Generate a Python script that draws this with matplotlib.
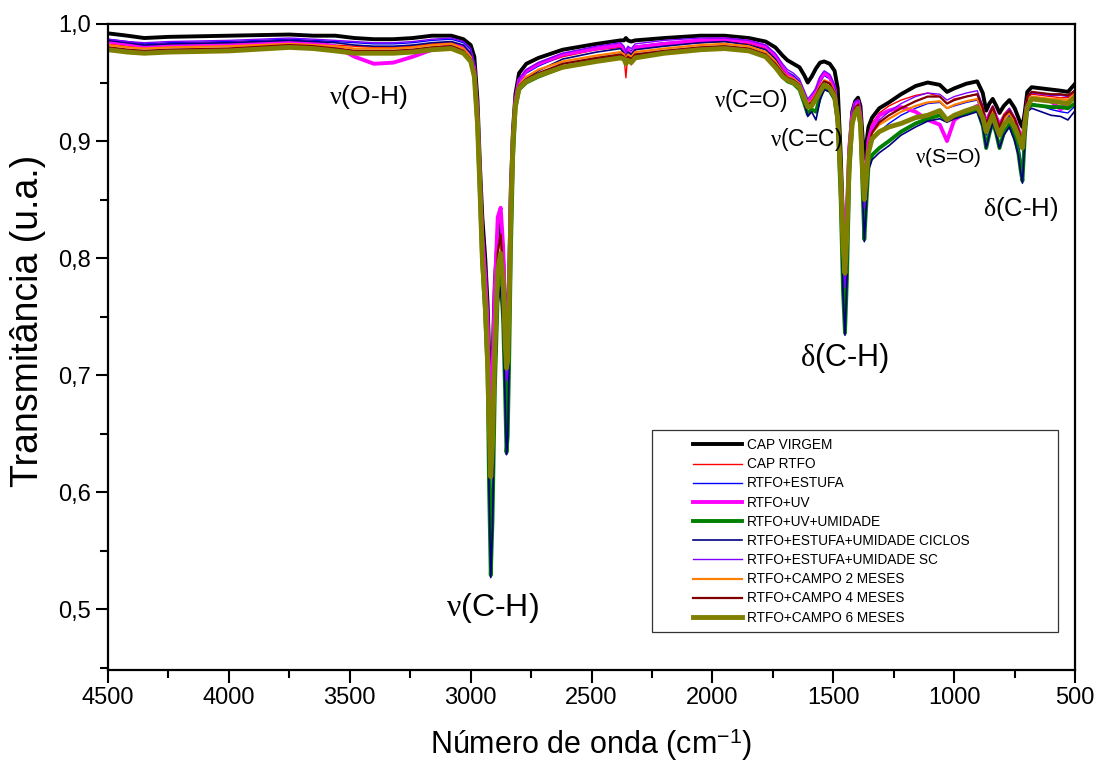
import matplotlib
matplotlib.use("Agg")
import matplotlib.pyplot as plt
from matplotlib.patches import Rectangle
from matplotlib.ticker import MultipleLocator

plt.rcParams['font.family'] = ['Liberation Sans', 'DejaVu Sans']
plt.rcParams['mathtext.fontset'] = 'custom'
plt.rcParams['mathtext.rm'] = 'Liberation Sans'
plt.rcParams['mathtext.it'] = 'Liberation Serif'
plt.rcParams['mathtext.bf'] = 'Liberation Sans:bold'

wavenumber = [4500, 4420, 4350, 4250, 4000, 3750, 3650, 3560, 3480, 3400,
              3320, 3240, 3160, 3080, 3030, 3000, 2985, 2972, 2962, 2952,
              2940, 2930, 2924, 2917, 2910, 2900, 2888, 2876, 2866, 2858,
              2852, 2847, 2841, 2834, 2825, 2815, 2800, 2770, 2720, 2620,
              2480, 2380, 2366, 2358, 2350, 2336, 2320, 2200, 2050, 1950,
              1850, 1780, 1740, 1710, 1690, 1665, 1640, 1620, 1606, 1590,
              1572, 1555, 1538, 1515, 1495, 1482, 1470, 1460, 1452, 1444,
              1434, 1422, 1410, 1398, 1388, 1378, 1372, 1365, 1355, 1340,
              1310, 1270, 1220, 1160, 1110, 1060, 1030, 1000, 950, 905,
              882, 868, 855, 841, 826, 813, 795, 772, 750, 735,
              726, 718, 708, 698, 680, 640, 600, 560, 530, 500]

cap_virgem = [0.992, 0.990, 0.988, 0.989, 0.990, 0.991, 0.990, 0.990, 0.988, 0.987,
              0.987, 0.988, 0.990, 0.990, 0.987, 0.982, 0.972, 0.935, 0.880, 0.835,
              0.800, 0.760, 0.720, 0.680, 0.710, 0.780, 0.820, 0.830, 0.800, 0.760,
              0.730, 0.735, 0.780, 0.860, 0.910, 0.940, 0.958, 0.966, 0.971, 0.978,
              0.983, 0.986, 0.986, 0.988, 0.986, 0.985, 0.986, 0.988, 0.990, 0.990,
              0.988, 0.985, 0.980, 0.973, 0.969, 0.966, 0.963, 0.956, 0.950, 0.955,
              0.962, 0.967, 0.968, 0.966, 0.960, 0.945, 0.890, 0.830, 0.800, 0.830,
              0.890, 0.925, 0.934, 0.937, 0.930, 0.900, 0.885, 0.895, 0.912, 0.920,
              0.928, 0.933, 0.940, 0.947, 0.950, 0.948, 0.942, 0.945, 0.949, 0.951,
              0.941, 0.926, 0.932, 0.936, 0.930, 0.924, 0.930, 0.935, 0.928, 0.920,
              0.915, 0.912, 0.925, 0.942, 0.946, 0.945, 0.944, 0.943, 0.942, 0.949]

cap_rtfo = [0.983, 0.981, 0.980, 0.981, 0.982, 0.984, 0.983, 0.982, 0.981, 0.980,
            0.980, 0.981, 0.983, 0.984, 0.981, 0.975, 0.963, 0.925, 0.870, 0.815,
            0.780, 0.740, 0.700, 0.665, 0.695, 0.770, 0.832, 0.843, 0.805, 0.755,
            0.725, 0.730, 0.775, 0.855, 0.905, 0.935, 0.952, 0.960, 0.965, 0.972,
            0.978, 0.980, 0.972, 0.954, 0.975, 0.965, 0.979, 0.982, 0.984, 0.985,
            0.983, 0.979, 0.972, 0.963, 0.958, 0.955, 0.950, 0.940, 0.934, 0.938,
            0.944, 0.952, 0.957, 0.954, 0.946, 0.928, 0.875, 0.825, 0.800, 0.830,
            0.892, 0.924, 0.933, 0.935, 0.924, 0.882, 0.865, 0.878, 0.905, 0.915,
            0.924, 0.930, 0.935, 0.939, 0.941, 0.938, 0.932, 0.936, 0.938, 0.940,
            0.930, 0.918, 0.925, 0.930, 0.922, 0.915, 0.923, 0.928, 0.920, 0.912,
            0.907, 0.905, 0.920, 0.937, 0.940, 0.939, 0.938, 0.937, 0.937, 0.942]

rtfo_estufa = [0.987, 0.985, 0.983, 0.984, 0.985, 0.987, 0.986, 0.985, 0.984, 0.983,
               0.983, 0.984, 0.986, 0.987, 0.984, 0.978, 0.965, 0.920, 0.860, 0.800,
               0.760, 0.715, 0.630, 0.560, 0.600, 0.700, 0.775, 0.790, 0.755, 0.700,
               0.655, 0.665, 0.725, 0.815, 0.890, 0.932, 0.950, 0.958, 0.964, 0.973,
               0.979, 0.982, 0.978, 0.970, 0.979, 0.977, 0.981, 0.984, 0.986, 0.987,
               0.985, 0.981, 0.974, 0.964, 0.959, 0.956, 0.951, 0.940, 0.930, 0.934,
               0.938, 0.950, 0.956, 0.953, 0.944, 0.925, 0.860, 0.785, 0.750, 0.792,
               0.878, 0.920, 0.932, 0.932, 0.920, 0.862, 0.830, 0.852, 0.888, 0.900,
               0.908, 0.915, 0.922, 0.928, 0.932, 0.933, 0.928, 0.930, 0.933, 0.935,
               0.922, 0.905, 0.915, 0.925, 0.915, 0.905, 0.915, 0.922, 0.912, 0.898,
               0.886, 0.878, 0.910, 0.932, 0.932, 0.930, 0.927, 0.925, 0.924, 0.930]

rtfo_uv = [0.985, 0.983, 0.981, 0.982, 0.983, 0.985, 0.984, 0.981, 0.972, 0.966,
           0.967, 0.972, 0.978, 0.982, 0.980, 0.974, 0.962, 0.925, 0.870, 0.820,
           0.785, 0.745, 0.700, 0.670, 0.700, 0.775, 0.835, 0.843, 0.810, 0.760,
           0.720, 0.725, 0.775, 0.855, 0.905, 0.935, 0.952, 0.960, 0.966, 0.974,
           0.979, 0.982, 0.978, 0.974, 0.979, 0.970, 0.980, 0.983, 0.986, 0.987,
           0.985, 0.981, 0.972, 0.962, 0.957, 0.953, 0.948, 0.938, 0.932, 0.936,
           0.943, 0.953, 0.958, 0.955, 0.945, 0.915, 0.870, 0.835, 0.818, 0.840,
           0.895, 0.922, 0.932, 0.934, 0.922, 0.878, 0.860, 0.872, 0.900, 0.912,
           0.922, 0.926, 0.929, 0.925, 0.918, 0.914, 0.900, 0.918, 0.925, 0.930,
           0.925, 0.916, 0.922, 0.928, 0.920, 0.914, 0.920, 0.926, 0.918, 0.910,
           0.904, 0.900, 0.918, 0.934, 0.936, 0.935, 0.934, 0.927, 0.933, 0.938]

rtfo_uv_umidade = [0.979, 0.977, 0.976, 0.977, 0.978, 0.981, 0.980, 0.978, 0.976, 0.976,
                   0.976, 0.977, 0.979, 0.980, 0.976, 0.969, 0.956, 0.912, 0.855, 0.795,
                   0.752, 0.702, 0.605, 0.529, 0.575, 0.690, 0.770, 0.785, 0.748, 0.688,
                   0.634, 0.648, 0.712, 0.805, 0.885, 0.928, 0.944, 0.950, 0.955, 0.963,
                   0.969, 0.972, 0.970, 0.967, 0.970, 0.968, 0.972, 0.976, 0.979, 0.980,
                   0.978, 0.973, 0.964, 0.955, 0.951, 0.949, 0.944, 0.932, 0.923, 0.927,
                   0.925, 0.938, 0.945, 0.943, 0.936, 0.916, 0.852, 0.772, 0.736, 0.782,
                   0.872, 0.914, 0.926, 0.927, 0.913, 0.852, 0.816, 0.842, 0.878, 0.888,
                   0.894, 0.900, 0.908, 0.915, 0.919, 0.922, 0.918, 0.921, 0.924, 0.927,
                   0.913, 0.894, 0.906, 0.917, 0.906, 0.894, 0.907, 0.914, 0.903, 0.890,
                   0.876, 0.866, 0.905, 0.928, 0.931, 0.930, 0.929, 0.929, 0.928, 0.932]

rtfo_estufa_umid_ciclos = [0.986, 0.984, 0.982, 0.983, 0.984, 0.986, 0.985, 0.984, 0.982, 0.981,
                           0.981, 0.982, 0.984, 0.985, 0.982, 0.975, 0.962, 0.910, 0.850, 0.790,
                           0.750, 0.700, 0.600, 0.527, 0.570, 0.680, 0.760, 0.775, 0.740, 0.680,
                           0.632, 0.645, 0.710, 0.800, 0.880, 0.925, 0.945, 0.953, 0.960, 0.970,
                           0.976, 0.979, 0.975, 0.972, 0.976, 0.974, 0.978, 0.981, 0.984, 0.985,
                           0.982, 0.978, 0.970, 0.960, 0.955, 0.952, 0.945, 0.932, 0.921, 0.925,
                           0.918, 0.935, 0.944, 0.942, 0.935, 0.915, 0.850, 0.770, 0.734, 0.780,
                           0.870, 0.915, 0.928, 0.928, 0.915, 0.850, 0.814, 0.840, 0.875, 0.884,
                           0.890, 0.896, 0.905, 0.912, 0.917, 0.919, 0.916, 0.919, 0.922, 0.925,
                           0.912, 0.894, 0.905, 0.916, 0.905, 0.894, 0.905, 0.912, 0.900, 0.888,
                           0.874, 0.864, 0.900, 0.925, 0.928, 0.925, 0.922, 0.921, 0.918, 0.926]

rtfo_estufa_umid_sc = [0.987, 0.985, 0.984, 0.985, 0.986, 0.988, 0.987, 0.986, 0.985, 0.984,
                       0.984, 0.985, 0.987, 0.988, 0.985, 0.979, 0.967, 0.925, 0.868, 0.810,
                       0.772, 0.730, 0.670, 0.620, 0.655, 0.745, 0.810, 0.820, 0.785, 0.730,
                       0.695, 0.700, 0.755, 0.840, 0.900, 0.935, 0.953, 0.961, 0.967, 0.975,
                       0.981, 0.984, 0.981, 0.976, 0.981, 0.979, 0.983, 0.986, 0.988, 0.988,
                       0.986, 0.982, 0.975, 0.966, 0.961, 0.958, 0.953, 0.943, 0.936, 0.940,
                       0.945, 0.955, 0.960, 0.957, 0.948, 0.928, 0.870, 0.805, 0.775, 0.810,
                       0.885, 0.924, 0.934, 0.935, 0.923, 0.870, 0.842, 0.862, 0.895, 0.908,
                       0.918, 0.925, 0.932, 0.938, 0.941, 0.940, 0.935, 0.938, 0.941, 0.943,
                       0.930, 0.915, 0.924, 0.930, 0.920, 0.912, 0.921, 0.928, 0.919, 0.910,
                       0.902, 0.898, 0.918, 0.938, 0.941, 0.940, 0.939, 0.939, 0.938, 0.944]

rtfo_campo_2 = [0.982, 0.980, 0.979, 0.980, 0.981, 0.983, 0.982, 0.981, 0.979, 0.979,
                0.979, 0.980, 0.982, 0.983, 0.979, 0.972, 0.960, 0.920, 0.865, 0.808,
                0.770, 0.725, 0.675, 0.630, 0.660, 0.740, 0.805, 0.818, 0.790, 0.740,
                0.712, 0.718, 0.765, 0.845, 0.900, 0.932, 0.948, 0.955, 0.961, 0.968,
                0.973, 0.976, 0.974, 0.970, 0.974, 0.972, 0.976, 0.979, 0.982, 0.983,
                0.981, 0.976, 0.968, 0.959, 0.955, 0.953, 0.949, 0.939, 0.932, 0.934,
                0.940, 0.947, 0.952, 0.950, 0.942, 0.924, 0.872, 0.815, 0.792, 0.825,
                0.888, 0.919, 0.928, 0.931, 0.919, 0.874, 0.855, 0.870, 0.896, 0.907,
                0.914, 0.919, 0.925, 0.930, 0.933, 0.934, 0.928, 0.931, 0.934, 0.936,
                0.926, 0.913, 0.920, 0.927, 0.918, 0.910, 0.919, 0.924, 0.917, 0.909,
                0.903, 0.900, 0.918, 0.934, 0.938, 0.937, 0.936, 0.936, 0.935, 0.940]

rtfo_campo_4 = [0.980, 0.978, 0.977, 0.978, 0.979, 0.982, 0.981, 0.979, 0.977, 0.977,
                0.977, 0.978, 0.980, 0.981, 0.977, 0.970, 0.958, 0.918, 0.862, 0.805,
                0.765, 0.720, 0.670, 0.625, 0.655, 0.735, 0.805, 0.820, 0.790, 0.738,
                0.710, 0.716, 0.762, 0.842, 0.900, 0.931, 0.947, 0.953, 0.958, 0.966,
                0.971, 0.974, 0.972, 0.969, 0.972, 0.970, 0.974, 0.977, 0.980, 0.981,
                0.979, 0.974, 0.966, 0.958, 0.954, 0.952, 0.948, 0.938, 0.931, 0.933,
                0.939, 0.946, 0.951, 0.949, 0.941, 0.922, 0.872, 0.812, 0.790, 0.822,
                0.886, 0.918, 0.928, 0.931, 0.918, 0.872, 0.853, 0.868, 0.895, 0.907,
                0.916, 0.922, 0.928, 0.934, 0.938, 0.938, 0.932, 0.935, 0.938, 0.940,
                0.928, 0.914, 0.922, 0.929, 0.920, 0.912, 0.921, 0.926, 0.919, 0.910,
                0.904, 0.902, 0.920, 0.938, 0.942, 0.941, 0.940, 0.940, 0.939, 0.943]

rtfo_campo_6 = [0.978, 0.976, 0.975, 0.976, 0.977, 0.980, 0.979, 0.977, 0.975, 0.975,
                0.975, 0.976, 0.978, 0.979, 0.975, 0.968, 0.955, 0.915, 0.860, 0.800,
                0.760, 0.710, 0.660, 0.613, 0.640, 0.720, 0.790, 0.804, 0.780, 0.730,
                0.706, 0.712, 0.760, 0.840, 0.900, 0.930, 0.945, 0.951, 0.956, 0.963,
                0.968, 0.971, 0.970, 0.966, 0.969, 0.967, 0.971, 0.975, 0.978, 0.979,
                0.977, 0.972, 0.963, 0.955, 0.952, 0.950, 0.946, 0.936, 0.929, 0.930,
                0.936, 0.942, 0.948, 0.945, 0.938, 0.920, 0.870, 0.810, 0.787, 0.820,
                0.884, 0.915, 0.924, 0.928, 0.915, 0.870, 0.850, 0.865, 0.890, 0.902,
                0.908, 0.912, 0.915, 0.920, 0.922, 0.926, 0.918, 0.922, 0.926, 0.929,
                0.920, 0.908, 0.915, 0.922, 0.912, 0.905, 0.914, 0.919, 0.912, 0.904,
                0.898, 0.894, 0.915, 0.929, 0.936, 0.935, 0.934, 0.933, 0.932, 0.938]

labels = ["CAP VIRGEM", "CAP RTFO", "RTFO+ESTUFA", "RTFO+UV", "RTFO+UV+UMIDADE",
          "RTFO+ESTUFA+UMIDADE CICLOS", "RTFO+ESTUFA+UMIDADE SC",
          "RTFO+CAMPO 2 MESES", "RTFO+CAMPO 4 MESES", "RTFO+CAMPO 6 MESES"]
series = [cap_virgem, cap_rtfo, rtfo_estufa, rtfo_uv, rtfo_uv_umidade,
          rtfo_estufa_umid_ciclos, rtfo_estufa_umid_sc, rtfo_campo_2,
          rtfo_campo_4, rtfo_campo_6]
colors = ["#000000", "#ff0000", "#0000ff", "#ff00ff", "#008000",
          "#000080", "#8000ff", "#ff8000", "#800000", "#808000"]
widths = [2.8, 1.0, 1.0, 2.8, 2.8, 1.2, 1.0, 1.6, 1.6, 3.5]

for s in series:
    assert len(s) == len(wavenumber), len(s)

fig = plt.figure(figsize=(10.99, 7.69), dpi=100)
ax = fig.add_axes([0.0983, 0.1287, 0.8800, 0.8401])

for s, lab, c, w in zip(series, labels, colors, widths):
    ax.plot(wavenumber, s, color=c, lw=w, label=lab, solid_joinstyle='round')

ax.set_xlim(4500, 500)
ax.set_ylim(0.448, 1.0)
ax.xaxis.set_major_locator(MultipleLocator(500))
ax.xaxis.set_minor_locator(MultipleLocator(250))
yt = [0.5, 0.6, 0.7, 0.8, 0.9, 1.0]
ax.set_yticks(yt)
ax.set_yticklabels([f"{v:.1f}".replace('.', ',') for v in yt])
ax.yaxis.set_minor_locator(MultipleLocator(0.05))
ax.tick_params(which='major', direction='out', length=9, width=1.5, labelsize=17,
               top=False, right=False)
ax.tick_params(which='minor', direction='out', length=6, width=1.5,
               top=False, right=False)
for sp in ax.spines.values():
    sp.set_linewidth(1.6)

ax.set_xlabel('Número de onda (cm$^{\\mathregular{-1}}$)', fontsize=22, labelpad=12)
ax.set_ylabel('Transmitância (u.a.)', fontsize=27, labelpad=3)
ax.yaxis.set_label_coords(-0.064, 0.54)

ax.text(3423, 0.938, r'$\nu$(O-H)', fontsize=19, ha='center', va='center')
ax.text(2910, 0.501, r'$\nu$(C-H)', fontsize=23, ha='center', va='center')
ax.text(1455, 0.715, r'$\delta$(C-H)', fontsize=22, ha='center', va='center')
ax.text(1842, 0.935, r'$\nu$(C=O)', fontsize=16.5, ha='center', va='center')
ax.text(1614, 0.901, r'$\nu$(C=C)', fontsize=16.5, ha='center', va='center')
ax.text(1026, 0.886, r'$\nu$(S=O)', fontsize=15, ha='center', va='center')
ax.text(723, 0.842, r'$\delta$(C-H)', fontsize=18.5, ha='center', va='center')

# legend box
ax.add_patch(Rectangle((0.5626, 0.0588), 0.4198, 0.3127, transform=ax.transAxes,
                       facecolor='white', edgecolor='#333333', lw=0.9, zorder=4))
leg = ax.legend(loc='upper left', bbox_to_anchor=(0.605, 0.3590), frameon=False,
                fontsize=9.8, handlelength=3.6, handletextpad=0.35, labelspacing=0.38,
                borderpad=0.0, borderaxespad=0.0)
leg.set_zorder(5)

fig.savefig('out.png', dpi=100)
